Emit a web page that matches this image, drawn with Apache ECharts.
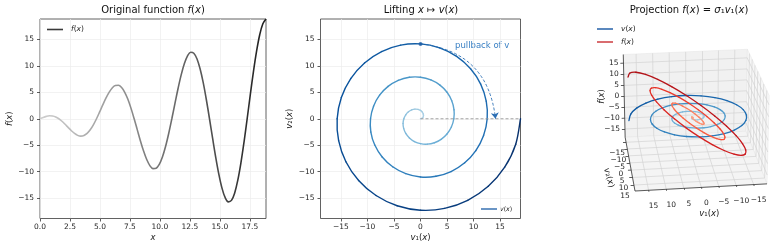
<!DOCTYPE html>
<html><head><meta charset="utf-8">
<script src="https://cdn.jsdelivr.net/npm/echarts@6/dist/echarts.min.js"></script>
<style>html,body{margin:0;padding:0;background:#fff}#c{width:777px;height:250px}</style>
</head><body><div id="c"></div>
<script>
// ---------------- data ----------------
const xVals = [0,0.2618,0.5236,0.7854,1.0472,1.3090,1.5708,1.8326,2.0944,2.3562,2.6180,2.8798,3.1416,3.4034,3.6652,3.9270,4.1888,4.4506,4.7124,4.9742,5.2360,5.4978,5.7596,6.0214,6.2832,6.5450,6.8068,7.0686,7.3304,7.5922,7.8540,8.1158,8.3776,8.6394,8.9012,9.1630,9.4248,9.6866,9.9484,10.2102,10.4720,10.7338,10.9956,11.2574,11.5192,11.7810,12.0428,12.3046,12.5664,12.8282,13.0900,13.3518,13.6136,13.8754,14.1372,14.3990,14.6608,14.9226,15.1844,15.4462,15.7080,15.9698,16.2316,16.4934,16.7552,17.0170,17.2788,17.5406,17.8024,18.0642,18.3260,18.5878,18.8496];
const fVals = [0,0.25,0.45,0.56,0.52,0.34,0,-0.47,-1.05,-1.67,-2.27,-2.78,-3.14,-3.29,-3.17,-2.78,-2.09,-1.15,0,1.29,2.62,3.89,4.99,5.82,6.28,6.32,5.89,5.00,3.67,1.96,0,-2.10,-4.19,-6.11,-7.71,-8.85,-9.42,-9.36,-8.62,-7.22,-5.24,-2.78,0,2.91,5.76,8.33,10.43,11.89,12.57,12.39,11.34,9.44,6.81,3.59,0,-3.73,-7.33,-10.55,-13.15,-14.92,-15.71,-15.43,-14.06,-11.66,-8.38,-4.40,0,4.54,8.90,12.77,15.87,17.95,18.85];
const v1Vals = fVals; // v1(x) coincides with f(x)
const v2Vals = [0,0.07,0.26,0.56,0.91,1.26,1.57,1.77,1.81,1.67,1.31,0.75,0,-0.88,-1.83,-2.78,-3.63,-4.30,-4.71,-4.80,-4.53,-3.89,-2.88,-1.56,0,1.69,3.40,5.00,6.35,7.33,7.85,7.84,7.26,6.11,4.45,2.37,0,-2.51,-4.97,-7.22,-9.07,-10.37,-11.00,-10.87,-9.98,-8.33,-6.02,-3.18,0,3.32,6.55,9.44,11.79,13.40,14.14,13.91,12.70,10.55,7.59,4.00,0,-4.13,-8.12,-11.66,-14.51,-16.44,-17.28,-16.94,-15.42,-12.77,-9.16,-4.81,0];
const sigma1 = 1;
const pullIndex = 54;           // point used for the "pullback" annotation
const R = 18.85;                // axis limits (±R)
const leftXTicks = [0,2.5,5,7.5,10,12.5,15,17.5];
const tickVals = [-15,-10,-5,0,5,10,15];

// ---------------- helpers ----------------
const FONT = '"DejaVu Sans", "Liberation Sans", sans-serif';
const TFS = 7.5;
const minus = v => String(v).replace('-', '\u2212');
const BLUES = ['#f7fbff','#deebf7','#c6dbef','#9ecae1','#6baed6','#4292c6','#2171b5','#08519c','#08306b'];
const REDS  = ['#fff5f0','#fee0d2','#fcbba1','#fc9272','#fb6a4a','#ef3b2c','#cb181d','#a50f15','#67000d'];
const GREYS = ['#ffffff','#f0f0f0','#d9d9d9','#bdbdbd','#969696','#737373','#525252','#252525','#000000'];
function hx(h){return [parseInt(h.slice(1,3),16),parseInt(h.slice(3,5),16),parseInt(h.slice(5,7),16)];}
function cmap(stops, v){
  const n = stops.length-1, p = Math.min(Math.max(v,0),1)*n, i = Math.min(Math.floor(p), n-1), f = p-i;
  const a = hx(stops[i]), b = hx(stops[i+1]);
  return 'rgb(' + a.map((c,j)=>Math.round(c+(b[j]-c)*f)).join(',') + ')';
}
const N = xVals.length;

// ---------------- 3D projection (no GL available) ----------------
const AZIM = 83*Math.PI/180, ELEV = 23*Math.PI/180, ZASP = 0.72, DIST = 20;
const ca=Math.cos(AZIM), sa=Math.sin(AZIM), ce=Math.cos(ELEV), se=Math.sin(ELEV);
function proj(a,b,c){
  const X=a/R, Y=b/R, Z=c/R*ZASP;
  const dn = X*ce*ca + Y*ce*sa + Z*se;
  const s = DIST/(DIST-dn);
  return [(-X*sa + Y*ca)*s, (-X*se*ca - Y*se*sa + Z*ce)*s];
}
const pFL = proj(R,R,-R), pFR = proj(-R,R,-R);
const K = (767-635)/(pFR[0]-pFL[0]);
const CX = 635 - K*pFL[0];
const CY = 191 + K*pFL[1];

// ---------------- series data ----------------
const leftData = xVals.map((x,i)=>[x, fVals[i]]);
const greyStops = []; for (let i=0;i<8;i++) greyStops.push(cmap(GREYS, 0.3 + 0.6*i/7));

const spiralPts = v1Vals.map((v,i)=>[v, v2Vals[i]]);
const blue3DPts = v1Vals.map((v,i)=>proj(v, v2Vals[i], 0));
const red3DPts  = v1Vals.map((v,i)=>proj(v, v2Vals[i], sigma1*v));

// smooth gradient curve: one Catmull-Rom bezier piece per data interval
function curveSeries(pts, colorFn, width, axisIdx, z){
  return {
    type:'custom', coordinateSystem:'cartesian2d', xAxisIndex:axisIdx, yAxisIndex:axisIdx, silent:true, z:z,
    data: pts.slice(0, pts.length-1),
    renderItem:(params, api)=>{
      const k = params.dataIndex, n = pts.length;
      const P = [Math.max(k-1,0), k, k+1, Math.min(k+2,n-1)].map(i=>api.coord(pts[i]));
      const c1 = [P[1][0]+(P[2][0]-P[0][0])/6, P[1][1]+(P[2][1]-P[0][1])/6];
      const c2 = [P[2][0]-(P[3][0]-P[1][0])/6, P[2][1]-(P[3][1]-P[1][1])/6];
      return {type:'bezierCurve',
        shape:{x1:P[1][0], y1:P[1][1], x2:P[2][0], y2:P[2][1], cpx1:c1[0], cpy1:c1[1], cpx2:c2[0], cpy2:c2[1]},
        style:{stroke:colorFn((k+0.5)/(n-1)), lineWidth:width, fill:'none', lineCap:'round'}};
    }
  };
}

const panes = [
  {c:[[R,-R,-R],[-R,-R,-R],[-R,-R,R],[R,-R,R]], fill:'#f1f1f1'},
  {c:[[-R,-R,-R],[-R,R,-R],[-R,R,R],[-R,-R,R]], fill:'#f7f7f7'},
  {c:[[R,-R,-R],[-R,-R,-R],[-R,R,-R],[R,R,-R]], fill:'#f4f4f4'}
];
const grid3D = [];
tickVals.forEach(t=>{
  [[[t,-R,-R],[t,-R,R]],[[R,-R,t],[-R,-R,t]],
   [[-R,t,-R],[-R,t,R]],[[-R,-R,t],[-R,R,t]],
   [[t,-R,-R],[t,R,-R]],[[R,t,-R],[-R,t,-R]]].forEach(s=>grid3D.push({coords:[proj(...s[0]),proj(...s[1])]}));
});
const axes3D = [
  {coords:[proj(R,R,-R),proj(-R,R,-R)]},
  {coords:[proj(R,-R,-R),proj(R,R,-R)]},
  {coords:[proj(R,-R,-R),proj(R,-R,R)]}
];
tickVals.forEach(t=>{
  axes3D.push({coords:[proj(t,R,-R),proj(t,R*1.05,-R)]});
  axes3D.push({coords:[proj(R,t,-R),proj(R*1.05,t,-R)]});
  axes3D.push({coords:[proj(R,-R,t),proj(R*1.05,-R,t)]});
});
const richBase = {
  n:{fontSize:8.5,fontFamily:FONT,fill:'#1a1a1a',color:'#1a1a1a'},
  i:{fontSize:8.5,fontFamily:FONT,fontStyle:'italic',fill:'#1a1a1a',color:'#1a1a1a'}
};
const labels3D = [];
tickVals.forEach(t=>{
  labels3D.push({p:proj(t,R,-R), dx:5, dy:15.5, text:minus(t), align:'center'});
  labels3D.push({p:proj(R,t,-R), dx:-9, dy:11, text:minus(t), align:'center'});
  labels3D.push({p:proj(R,-R,t), dx:-5, dy:0, text:minus(t), align:'right'});
});
labels3D.push({p:proj(0,R,-R), dx:8, dy:26, text:'{i|v}{n|\u2081(}{i|x}{n|)}', align:'center', rich:richBase});
labels3D.push({p:proj(R,0,-R), dx:-21, dy:15, text:'{i|v}{n|\u2082(}{i|x}{n|)}', align:'center', rich:richBase, rot:-1.3});
labels3D.push({p:proj(R,-R,0), dx:-22, dy:0, text:'{i|f}{n|(}{i|x}{n|)}', align:'center', rich:richBase, rot:Math.PI/2});

// ---------------- option ----------------
const axisCommon = {
  type:'value',
  axisLine:{show:false, onZero:false},
  axisTick:{show:true, inside:false, length:3, lineStyle:{color:'#333', width:0.8}},
  axisLabel:{fontSize:TFS, fontFamily:FONT, color:'#262626', margin:4.5},
  splitLine:{show:true, lineStyle:{color:'#ececec', width:0.7}},
  nameTextStyle:{fontSize:8.5, fontFamily:FONT, color:'#1a1a1a', rich:richBase},
  nameMoveOverlap:false
};
function ax(extra){ return Object.assign({}, axisCommon, extra); }

const option = {
  animation:false,
  backgroundColor:'#fff',
  grid:[
    {left:40, top:19, width:226, height:199.5, show:true, borderColor:'#3a3a3a', borderWidth:0.8, backgroundColor:'transparent', containLabel:false, outerBoundsMode:'none'},
    {left:320.5, top:19, width:200, height:199.5, show:true, borderColor:'#3a3a3a', borderWidth:0.8, backgroundColor:'transparent', containLabel:false, outerBoundsMode:'none'},
    {left:560, top:0, width:217, height:250, show:false, containLabel:false, outerBoundsMode:'none'}
  ],
  xAxis:[
    ax({gridIndex:0, min:0, max:R, name:'{i|x}', nameLocation:'middle', nameGap:15,
      axisTick:Object.assign({}, axisCommon.axisTick, {customValues:leftXTicks}),
      axisLabel:Object.assign({}, axisCommon.axisLabel, {customValues:leftXTicks, formatter:v=>v.toFixed(1)})}),
    ax({gridIndex:1, min:-R, max:R, name:'{i|v}{n|\u2081(}{i|x}{n|)}', nameLocation:'middle', nameGap:15,
      axisTick:Object.assign({}, axisCommon.axisTick, {customValues:tickVals}),
      axisLabel:Object.assign({}, axisCommon.axisLabel, {customValues:tickVals, formatter:minus})}),
    {gridIndex:2, type:'value', show:false, min:(560-CX)/K, max:(777-CX)/K, splitLine:{show:false}}
  ],
  yAxis:[
    ax({gridIndex:0, min:-R, max:R, name:'{i|f}{n|(}{i|x}{n|)}', nameLocation:'middle', nameGap:26,
      axisTick:Object.assign({}, axisCommon.axisTick, {customValues:tickVals}),
      axisLabel:Object.assign({}, axisCommon.axisLabel, {customValues:tickVals, formatter:minus, margin:6})}),
    ax({gridIndex:1, min:-R, max:R, name:'{i|v}{n|\u2082(}{i|x}{n|)}', nameLocation:'middle', nameGap:26,
      axisTick:Object.assign({}, axisCommon.axisTick, {customValues:tickVals}),
      axisLabel:Object.assign({}, axisCommon.axisLabel, {customValues:tickVals, formatter:minus, margin:6})}),
    {gridIndex:2, type:'value', show:false, min:(CY-250)/K, max:CY/K, splitLine:{show:false}}
  ],
  visualMap:[{type:'continuous', show:false, seriesIndex:0, dimension:0, min:0, max:R, inRange:{color:greyStops}}],
  series:[
    {type:'line', xAxisIndex:0, yAxisIndex:0, data:leftData, smooth:0.35, showSymbol:false, symbol:'none',
      lineStyle:{width:1.6}, z:3},
    curveSeries(spiralPts, f=>cmap(BLUES, 0.3+0.7*f), 1.4, 1, 3),
    {type:'line', xAxisIndex:1, yAxisIndex:1, data:[[0,0],[R,0]], symbol:'none',
      lineStyle:{color:'#999', width:0.9, type:[3,2]}, z:4},
    {type:'lines', coordinateSystem:'cartesian2d', xAxisIndex:1, yAxisIndex:1,
      data:[{coords:[[v1Vals[pullIndex], v2Vals[pullIndex]],[xVals[pullIndex], 0]]}],
      symbol:['none','arrow'], symbolSize:[0,6],
      lineStyle:{color:'#2d6fb4', width:0.9, type:[3,2], curveness:0.4, opacity:1}, z:5, silent:true},
    {type:'scatter', xAxisIndex:1, yAxisIndex:1, data:[[v1Vals[pullIndex], v2Vals[pullIndex]]],
      symbolSize:4, itemStyle:{color:'#1c5ca5'}, z:6, silent:true},
    // 3D panel
    {type:'custom', coordinateSystem:'cartesian2d', xAxisIndex:2, yAxisIndex:2, silent:true, z:1,
      data:panes.map(()=>[0,0]),
      renderItem:(params, api)=>{
        const p = panes[params.dataIndex];
        return {type:'polygon', shape:{points:p.c.map(c=>api.coord(proj(...c)))}, style:{fill:p.fill, stroke:'#e4e4e4', lineWidth:0.5}};
      }},
    {type:'lines', coordinateSystem:'cartesian2d', xAxisIndex:2, yAxisIndex:2, data:grid3D, silent:true, z:1.5,
      lineStyle:{color:'#d2d2d2', width:0.7, opacity:1}},
    {type:'lines', coordinateSystem:'cartesian2d', xAxisIndex:2, yAxisIndex:2, data:axes3D, silent:true, z:2,
      lineStyle:{color:'#333', width:0.8, opacity:1}},
    curveSeries(blue3DPts, f=>cmap(BLUES, 0.3+0.55*f), 1.3, 2, 3),
    curveSeries(red3DPts, f=>cmap(REDS, 0.3+0.55*f), 1.3, 2, 3.5),
    {type:'custom', coordinateSystem:'cartesian2d', xAxisIndex:2, yAxisIndex:2, silent:true, z:5,
      data:labels3D.map(L=>L.p),
      renderItem:(params, api)=>{
        const L = labels3D[params.dataIndex];
        const q = api.coord(L.p);
        return {type:'text', x:q[0]+L.dx, y:q[1]+L.dy, rotation:L.rot||0,
          style:{text:L.text, fill:'#262626', fontSize:TFS, fontFamily:FONT, align:L.align, verticalAlign:'middle', rich:L.rich}};
      }}
  ],
  graphic:[
    {type:'text', x:153, y:10.5, style:{text:'{n|Original function }{i|f}{n|(}{i|x}{n|)}', align:'center', verticalAlign:'middle',
      rich:{n:{fontSize:10,fontFamily:FONT,fill:'#111'}, i:{fontSize:10,fontFamily:FONT,fontStyle:'italic',fill:'#111'}}}},
    {type:'text', x:421, y:10.5, style:{text:'{n|Lifting }{i|x}{n| \u21a6 }{i|v}{n|(}{i|x}{n|)}', align:'center', verticalAlign:'middle',
      rich:{n:{fontSize:10,fontFamily:FONT,fill:'#111'}, i:{fontSize:10,fontFamily:FONT,fontStyle:'italic',fill:'#111'}}}},
    {type:'text', x:689, y:10.5, style:{text:'{n|Projection }{i|f}{n|(}{i|x}{n|) = }{i|\u03c3}{n|\u2081}{i|v}{n|\u2081(}{i|x}{n|)}', align:'center', verticalAlign:'middle',
      rich:{n:{fontSize:10,fontFamily:FONT,fill:'#111'}, i:{fontSize:10,fontFamily:FONT,fontStyle:'italic',fill:'#111'}}}},
    // legends
    {type:'line', shape:{x1:47,y1:29.5,x2:63,y2:29.5}, style:{stroke:'#3a3a3a', lineWidth:1.6}},
    {type:'text', x:71, y:29.5, style:{text:'{i|f}{n|(}{i|x}{n|)}', verticalAlign:'middle',
      rich:{n:{fontSize:7.5,fontFamily:FONT,fill:'#222'}, i:{fontSize:7.5,fontFamily:FONT,fontStyle:'italic',fill:'#222'}}}},
    {type:'line', shape:{x1:481,y1:209,x2:497,y2:209}, style:{stroke:'#2a68ad', lineWidth:1.4}},
    {type:'text', x:500, y:209, style:{text:'{i|v}{n|(}{i|x}{n|)}', verticalAlign:'middle',
      rich:{n:{fontSize:6.2,fontFamily:FONT,fill:'#222'}, i:{fontSize:6.2,fontFamily:FONT,fontStyle:'italic',fill:'#222'}}}},
    {type:'line', shape:{x1:597,y1:29,x2:613,y2:29}, style:{stroke:'#2461a8', lineWidth:1.5}},
    {type:'text', x:621, y:29, style:{text:'{i|v}{n|(}{i|x}{n|)}', verticalAlign:'middle',
      rich:{n:{fontSize:7.5,fontFamily:FONT,fill:'#222'}, i:{fontSize:7.5,fontFamily:FONT,fontStyle:'italic',fill:'#222'}}}},
    {type:'line', shape:{x1:597,y1:42,x2:613,y2:42}, style:{stroke:'#cc3b3f', lineWidth:1.5}},
    {type:'text', x:621, y:42, style:{text:'{i|f}{n|(}{i|x}{n|)}', verticalAlign:'middle',
      rich:{n:{fontSize:7.5,fontFamily:FONT,fill:'#222'}, i:{fontSize:7.5,fontFamily:FONT,fontStyle:'italic',fill:'#222'}}}},
    // annotation text
    {type:'text', x:455, y:46, style:{text:'pullback of v', verticalAlign:'middle', fontSize:8.5, fontFamily:FONT, fill:'#3a80c4'}}
  ]
};
const chart = echarts.init(document.getElementById('c'), null, {renderer:'canvas', width:777, height:250});
chart.setOption(option);
</script>
</body></html>
